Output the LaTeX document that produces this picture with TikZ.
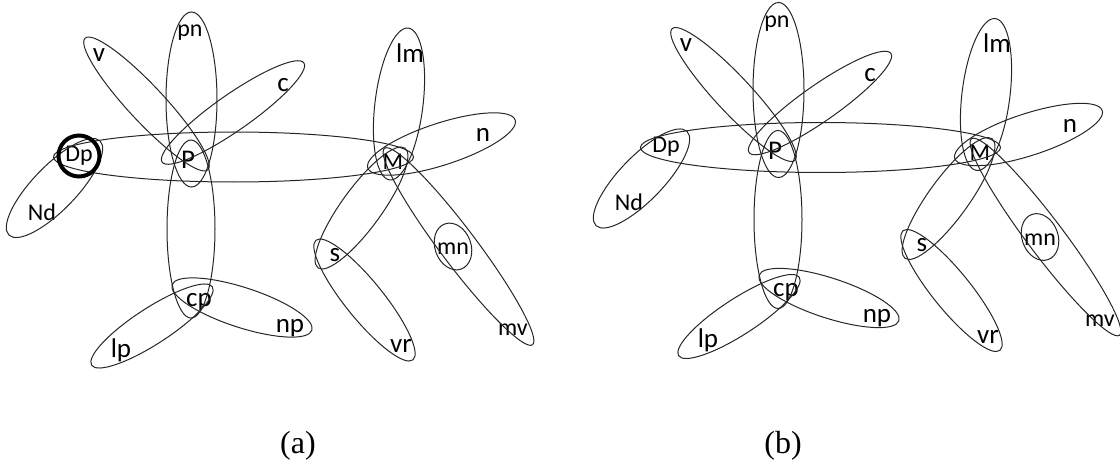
\documentclass[tikz,border=0pt]{standalone}
\usepackage{fontspec}
\setmainfont{Liberation Serif}
\newfontfamily\lblfont{Carlito}
\usetikzlibrary{shapes.geometric}
\tikzset{
  hedge/.style={draw=black!85, line width=1pt, ellipse, inner sep=0pt},
  vlbl/.style={inner sep=1pt, font=\lblfont\fontsize{27pt}{27pt}\selectfont},
  vlbls/.style={inner sep=1pt, font=\lblfont\fontsize{24pt}{24pt}\selectfont},
  focus/.style={draw=black, line width=4pt, circle, inner sep=0pt, minimum size=41pt},
  caplbl/.style={font=\fontsize{32pt}{32pt}\selectfont},
}
% one hypergraph, drawn in both panels
\newcommand{\hgraph}{%
  \node[vlbl]  (v)  at (99,412)  {v};
  \node[vlbls] (pn) at (190,434) {pn};
  \node[vlbl]  (c)  at (283,382) {c};
  \node[vlbl]  (lm) at (410,414) {lm};
  \node[vlbl]  (n)  at (483,332) {n};
  \node[vlbls] (Dp) at (79,311)  {Dp};
  \node[vlbl]  (P)  at (188,307) {P};
  \node[vlbls] (M)  at (393,305) {M};
  \node[vlbls] (Nd) at (42,255)  {Nd};
  \node[vlbl]  (cp) at (199,165) {cp};
  \node[vlbl]  (lp) at (121,117) {lp};
  \node[vlbl]  (np) at (290,139) {np};
  \node[vlbl]  (s)  at (335,212) {s};
  \node[vlbls] (mn) at (453,218) {mn};
  \node[vlbl]  (vr) at (401,121) {vr};
  \node[vlbls] (mv) at (513,137) {mv};
  % hyperedges
  \node[hedge, minimum width=180pt, minimum height=36pt, rotate=133] (eV)  at (146.5,363) {};
  \node[hedge, minimum width=175pt, minimum height=51pt, rotate=90]  (ePn) at (191.5,367.5) {};
  \node[hedge, minimum width=173pt, minimum height=36pt, rotate=35]  (eC)  at (233,354.5) {};
  \node[hedge, minimum width=178pt, minimum height=48pt, rotate=90]  (eCp) at (191,238) {};
  \node[hedge, minimum width=144pt, minimum height=36pt, rotate=33]  (eLp) at (152,141) {};
  \node[hedge, minimum width=147pt, minimum height=40pt, rotate=-18] (eNp) at (242,159.5) {};
  \node[hedge, minimum width=360pt, minimum height=50pt]             (eDM) at (233.5,310) {};
  \node[hedge, minimum width=131pt, minimum height=44pt, rotate=46]  (eNd) at (54.5,279) {};
  \node[hedge, minimum width=153pt, minimum height=48pt, rotate=83]  (eLm) at (399,363) {};
  \node[hedge, minimum width=155pt, minimum height=42pt, rotate=18]  (eN)  at (441.5,323) {};
  \node[hedge, minimum width=148pt, minimum height=40pt, rotate=54]  (eS)  at (361.5,259) {};
  \node[hedge, minimum width=154pt, minimum height=38pt, rotate=129] (eVr) at (364.5,167) {};
  \node[hedge, minimum width=246pt, minimum height=36pt, rotate=127] (eMv) at (458.5,220.5) {};
  \node[hedge, minimum width=48pt,  minimum height=36pt, rotate=110] (eMn) at (453,220.5) {};
}

\begin{document}
\begin{tikzpicture}[x=1pt, y=1pt]
  \useasboundingbox (0,0) rectangle (1120,467);
  \begin{scope}[name prefix=a-]
    \hgraph
    \node[focus] (ring) at (Dp) {};
  \end{scope}
  \begin{scope}[shift={(587,9.5)}, name prefix=b-]
    \hgraph
  \end{scope}
  \node[caplbl] (capA) at (298,21) {(a)};
  \node[caplbl] (capB) at (783,21) {(b)};
\end{tikzpicture}
\end{document}
